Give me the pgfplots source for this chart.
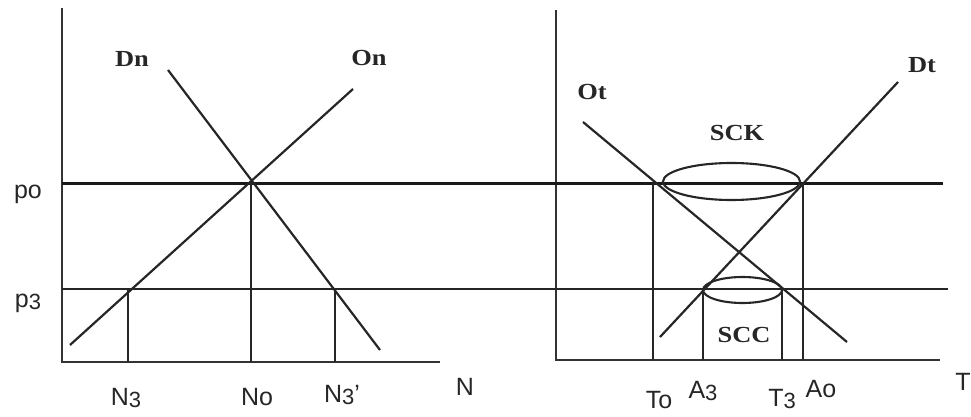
\documentclass[border=0pt]{standalone}
\usepackage{fontspec}
\setmainfont{Liberation Serif}
\setsansfont{Liberation Sans}
\usepackage{pgfplots}
\pgfplotsset{compat=1.18}

% sans labels (axis names), serif labels (curve names)
\newcommand{\lab}[1]{\fontsize{25}{25}\selectfont\sffamily #1}
\newcommand{\sub}[1]{\raisebox{-2pt}{\fontsize{22}{22}\selectfont #1}}
\newcommand{\crv}[1]{\fontsize{23}{23}\selectfont\rmfamily\bfseries #1}

\begin{document}
\begin{tikzpicture}[
    sans/.style={anchor=base, text=black!85, inner sep=0pt},
    serif/.style={anchor=base, text=black!85, inner sep=0pt, xscale=1.15},
]
\begin{axis}[
    scale only axis,
    width=971pt,
    height=417pt,
    xmin=0, xmax=971,
    ymin=0, ymax=417,
    y dir=reverse,
    hide axis,
    clip=false,
]
\path (rel axis cs:0,0) rectangle (rel axis cs:1,1);

% axes
\addplot[black!80, line width=2.4pt] coordinates {(62,8) (62,362) (440,362)};
\addplot[black!80, line width=2.4pt] coordinates {(556,10) (556,360) (940,360)};

% price levels po and p3 (across both panels)
\addplot[black!90, line width=3pt] coordinates {(62,183) (943,183)};
\addplot[black!85, line width=2.8pt] coordinates {(62,289) (948,289)};

% left panel: Dn and On
\addplot[black!85, line width=2.2pt] coordinates {(168,70) (380,350)};
\addplot[black!85, line width=2.2pt] coordinates {(70,345) (353,89)};
\addplot[black!85, line width=2.6pt] coordinates {(251,183) (251,362)};
\addplot[black!85, line width=2.6pt] coordinates {(128,289) (128,362)};
\addplot[black!85, line width=2.6pt] coordinates {(335,289) (335,362)};

% right panel: Ot and Dt
\addplot[black!85, line width=2.2pt] coordinates {(583,122) (847,342)};
\addplot[black!85, line width=2.2pt] coordinates {(660,337) (898,82)};
\addplot[black!85, line width=2.6pt] coordinates {(653,183) (653,360)};
\addplot[black!85, line width=2.6pt] coordinates {(803,183) (803,360)};
\addplot[black!85, line width=2.6pt] coordinates {(703,289) (703,360)};
\addplot[black!85, line width=2.6pt] coordinates {(782,289) (782,360)};

% SCK and SCC
\draw[black!85, line width=2.1pt] (axis cs:731.5,181.5) ellipse [x radius=68.5, y radius=18.5];
\draw[black!85, line width=2.1pt] (axis cs:742.5,290) ellipse [x radius=39.5, y radius=13];

% labels
\node[sans] at (axis cs:28,198) {\lab{po}};
\node[sans] at (axis cs:28,307) {\lab{p\sub{3}}};
\node[sans] at (axis cs:126,405) {\lab{N\sub{3}}};
\node[sans] at (axis cs:257,405) {\lab{No}};
\node[sans] at (axis cs:342,402) {\lab{N\sub{3}'}};
\node[sans] at (axis cs:465,395) {\lab{N}};
\node[sans] at (axis cs:659,408) {\lab{To}};
\node[sans] at (axis cs:703,398) {\lab{A\sub{3}}};
\node[sans] at (axis cs:782,406) {\lab{T\sub{3}}};
\node[sans] at (axis cs:821,397) {\lab{Ao}};
\node[sans] at (axis cs:963,390) {\lab{T}};

\node[serif] at (axis cs:132,67) {\crv{Dn}};
\node[serif] at (axis cs:369,66) {\crv{On}};
\node[serif] at (axis cs:592,100) {\crv{Ot}};
\node[serif] at (axis cs:922,73) {\crv{Dt}};
\node[serif] at (axis cs:737,140) {\crv{SCK}};
\node[serif] at (axis cs:744,342) {\crv{SCC}};
\end{axis}
\end{tikzpicture}
\end{document}
